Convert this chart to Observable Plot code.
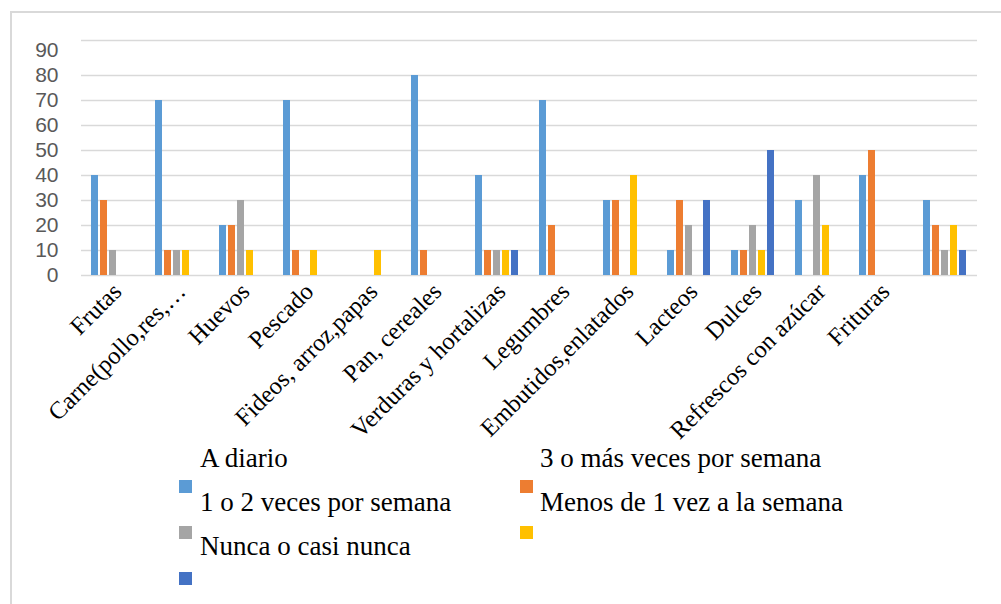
<!DOCTYPE html>
<html>
<head>
<meta charset="utf-8">
<script src="https://cdn.jsdelivr.net/npm/d3@7"></script>
<script src="https://cdn.jsdelivr.net/npm/@observablehq/plot@0.6"></script>
<style>
  html, body { margin: 0; padding: 0; background: #fff; }
  #wrap { position: relative; width: 1001px; height: 604px; overflow: hidden; background: #fff; }
  #border { position: absolute; left: 10px; top: 11px; width: 1100px; height: 700px; border: 2px solid #d9d9d9; box-sizing: border-box; }
  #chart { position: absolute; left: 0; top: 0; }
  #legend { position: absolute; left: 0; top: 0; }
</style>
</head>
<body>
<div id="wrap">
  <div id="border"></div>
  <div id="chart"></div>
  <svg id="legend" width="1001" height="604"></svg>
</div>
<script>
// ---- data ----
const categories = ["Frutas", "Carne(pollo,res,…", "Huevos", "Pescado", "Fideos, arroz,papas",
  "Pan, cereales", "Verduras y hortalizas", "Legumbres", "Embutidos,enlatados", "Lacteos",
  "Dulces", "Refrescos con azúcar", "Frituras", " "];
const seriesNames = ["A diario", "3 o más veces por semana", "1 o 2 veces por semana",
  "Menos de 1 vez a la semana", "Nunca o casi nunca"];
const seriesColors = ["#5B9BD5", "#ED7D31", "#A5A5A5", "#FFC000", "#4472C4"];
const aDiario   = [40, 70, 20, 70, 0, 80, 40, 70, 30, 10, 10, 30, 40, 30];
const tresOMas  = [30, 10, 20, 10, 0, 10, 10, 20, 30, 30, 10, 0, 50, 20];
const unoODos   = [10, 10, 30, 0, 0, 0, 10, 0, 0, 20, 20, 40, 0, 10];
const menosDe1  = [0, 10, 10, 10, 10, 0, 10, 0, 40, 0, 10, 20, 0, 20];
const nunca     = [0, 0, 0, 0, 0, 0, 10, 0, 0, 30, 50, 0, 0, 10];
const yTicks = [0, 10, 20, 30, 40, 50, 60, 70, 80, 90];
const yMax = 94;

const seriesValues = [aDiario, tresOMas, unoODos, menosDe1, nunca];
const data = [];
categories.forEach((c, i) => {
  seriesNames.forEach((s, j) => {
    data.push({category: c, series: s, value: seriesValues[j][i]});
  });
});
const gridValues = yTicks.filter(v => v < 90).concat([yMax]);

const chart = Plot.plot({
  width: 1001,
  height: 440,
  marginLeft: 75,
  marginRight: 18,
  marginTop: 40,
  marginBottom: 165,
  style: {background: "transparent", color: "#000", overflow: "visible"},
  fx: {domain: categories, paddingInner: 0, paddingOuter: 0, label: null, axis: null},
  x: {domain: seriesNames, paddingInner: 0.175, paddingOuter: 0.93, axis: null},
  y: {domain: [0, yMax], axis: null},
  color: {domain: seriesNames, range: seriesColors},
  marks: [
    Plot.ruleY(gridValues, {stroke: "#d9d9d9", strokeWidth: 1.4}),
    Plot.barY(data, {fx: "category", x: "series", y: "value", fill: "series"}),
    Plot.axisY({ticks: yTicks, tickSize: 0, tickPadding: 23, fontSize: 21,
      fontFamily: "Liberation Sans, Arial, sans-serif", fill: "#595959", label: null}),
    Plot.axisFx({anchor: "bottom", tickRotate: -45, tickSize: 0, tickPadding: 12, dx: 4, fontSize: 24.5,
      fontFamily: "Liberation Serif, Times New Roman, serif", fill: "#000", label: null})
  ]
});
document.getElementById("chart").appendChild(chart);

// ---- legend (labels sit one row above their swatches, as in the reference) ----
const legend = d3.select("#legend");
const colX = [179, 520];
const textX = [200, 540];
seriesNames.forEach((name, i) => {
  const col = i % 2;
  const row = Math.floor(i / 2);
  legend.append("rect")
    .attr("x", colX[col]).attr("y", 434 + 46 * (row + 1))
    .attr("width", 13).attr("height", 13)
    .attr("fill", seriesColors[i]);
  legend.append("text")
    .attr("x", textX[col]).attr("y", 467 + 44 * row)
    .attr("font-family", "Liberation Serif, Times New Roman, serif")
    .attr("font-size", 27)
    .attr("fill", "#000")
    .text(name);
});
</script>
</body>
</html>
